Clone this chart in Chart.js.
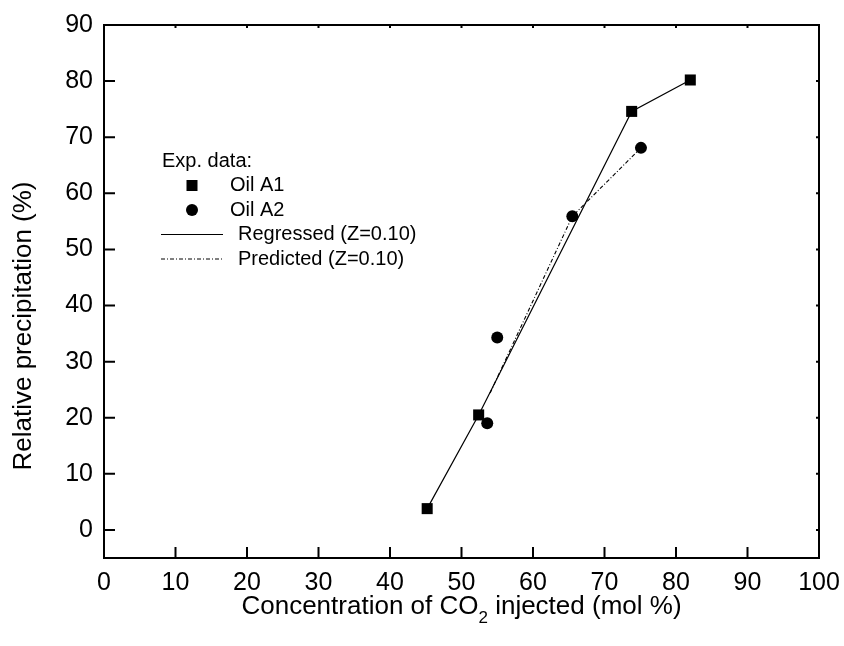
<!DOCTYPE html>
<html>
<head>
<meta charset="utf-8">
<script src="https://cdn.jsdelivr.net/npm/chart.js@4.4.1/dist/chart.umd.min.js"></script>
<style>
    html, body { margin: 0; padding: 0; background: #fff; }
    #wrap { width: 844px; height: 646px; }
</style>
</head>
<body>
<div id="wrap"><canvas id="myChart" width="844" height="646"></canvas></div>
<script>
// values
let oilA1X = [45.2, 52.4, 73.8, 82.0];
let oilA1Y = [3.8, 20.5, 74.6, 80.2];
let oilA2X = [53.6, 55.0, 65.5, 75.1];
let oilA2Y = [19.0, 34.3, 55.9, 68.1];
let regressedX = [45.2, 52.4, 73.8, 82.0];
let regressedY = [3.8, 20.5, 74.6, 80.2];
let predictedX = [54.0, 65.5, 75.1];
let predictedY = [24.4, 55.9, 68.1];
let xTicks = [0, 10, 20, 30, 40, 50, 60, 70, 80, 90, 100];
let yTicks = [0, 10, 20, 30, 40, 50, 60, 70, 80, 90];
let legendHeader = 'Exp. data:';
let yTitle = 'Relative precipitation (%)';
let xTitleParts = ['Concentration of CO', '2', ' injected (mol %)'];

const FONT = '"Liberation Sans", Arial, sans-serif';
const TICK_FS = 25;
const TITLE_FS = 26;
const LEGEND_FS = 20;

function toPoints(xs, ys) {
    return xs.map((x, i) => ({ x: x, y: ys[i] }));
}

// frame, inward ticks, legend and axis titles
const extras = {
    id: 'extras',
    afterDraw(chart) {
        let ctx = chart.ctx;
        let a = chart.chartArea;
        let xs = chart.scales.x;
        let ys = chart.scales.y;
        ctx.save();
        ctx.strokeStyle = '#000';
        ctx.lineWidth = 2;
        ctx.beginPath();
        ctx.moveTo(a.left, a.top);
        ctx.lineTo(a.right, a.top);
        ctx.lineTo(a.right, a.bottom);
        ctx.stroke();

        ctx.beginPath();
        xTicks.forEach(v => {
            let p = xs.getPixelForValue(v);
            ctx.moveTo(p, a.bottom);
            ctx.lineTo(p, a.bottom - 11);
            ctx.moveTo(p, a.top);
            ctx.lineTo(p, a.top + 3);
        });
        yTicks.forEach(v => {
            let p = ys.getPixelForValue(v);
            ctx.moveTo(a.left, p);
            ctx.lineTo(a.left + 11, p);
            ctx.moveTo(a.right, p);
            ctx.lineTo(a.right - 3, p);
        });
        ctx.stroke();

        // legend
        let ds = chart.data.datasets;
        let lx = a.left + 57;
        let ly = a.top + 136;
        let step = 24.5;
        ctx.fillStyle = '#000';
        ctx.font = LEGEND_FS + 'px ' + FONT;
        ctx.textBaseline = 'middle';
        ctx.textAlign = 'left';
        ctx.fillText(legendHeader, lx + 1, ly);

        let mx = lx + 31;
        ctx.fillRect(mx - 5.5, ly + step - 5.5, 11, 11);
        ctx.fillText(ds[0].label, lx + 69, ly + step);

        ctx.beginPath();
        ctx.arc(mx, ly + 2 * step, 6, 0, Math.PI * 2);
        ctx.fill();
        ctx.fillText(ds[1].label, lx + 69, ly + 2 * step);

        ctx.lineWidth = 1;
        ctx.beginPath();
        ctx.moveTo(lx, ly + 3 * step);
        ctx.lineTo(lx + 62, ly + 3 * step);
        ctx.stroke();
        ctx.fillText(ds[2].label, lx + 77, ly + 3 * step);

        ctx.setLineDash(ds[3].borderDash);
        ctx.beginPath();
        ctx.moveTo(lx, ly + 4 * step);
        ctx.lineTo(lx + 62, ly + 4 * step);
        ctx.stroke();
        ctx.setLineDash([]);
        ctx.fillText(ds[3].label, lx + 77, ly + 4 * step);

        // y axis title
        let big = TITLE_FS + 'px ' + FONT;
        ctx.save();
        ctx.translate(24, 326);
        ctx.rotate(-Math.PI / 2);
        ctx.font = big;
        ctx.textAlign = 'center';
        ctx.fillText(yTitle, 0, 0);
        ctx.restore();

        // x axis title with subscript
        let small = '17px ' + FONT;
        ctx.font = big;
        let w1 = ctx.measureText(xTitleParts[0]).width;
        let w3 = ctx.measureText(xTitleParts[2]).width;
        ctx.font = small;
        let w2 = ctx.measureText(xTitleParts[1]).width;
        let tx = (a.left + a.right) / 2 - (w1 + w2 + w3) / 2;
        let ty = 607;
        ctx.font = big;
        ctx.fillText(xTitleParts[0], tx, ty);
        ctx.font = small;
        ctx.fillText(xTitleParts[1], tx + w1, ty + 11);
        ctx.font = big;
        ctx.fillText(xTitleParts[2], tx + w1 + w2, ty);
        ctx.restore();
    }
};

let data = {
    datasets: [
        {
            label: 'Oil A1',
            data: toPoints(oilA1X, oilA1Y),
            showLine: false,
            pointStyle: 'rect',
            pointRadius: 7.8,
            backgroundColor: '#000',
            borderColor: '#000',
            borderWidth: 0
        }, {
            label: 'Oil A2',
            data: toPoints(oilA2X, oilA2Y),
            showLine: false,
            pointStyle: 'circle',
            pointRadius: 6,
            backgroundColor: '#000',
            borderColor: '#000',
            borderWidth: 0
        }, {
            label: 'Regressed (Z=0.10)',
            data: toPoints(regressedX, regressedY),
            showLine: true,
            pointRadius: 0,
            borderColor: '#000',
            borderWidth: 1.2,
            fill: false
        }, {
            label: 'Predicted (Z=0.10)',
            data: toPoints(predictedX, predictedY),
            showLine: true,
            pointRadius: 0,
            borderColor: '#000',
            borderWidth: 1.1,
            borderDash: [4, 2, 1, 2],
            fill: false
        }]
};

const config = {
    type: 'scatter',
    data: data,
    options: {
        responsive: false,
        animation: false,
        devicePixelRatio: 1,
        layout: { padding: { top: 25, right: 25, left: 0, bottom: 0 } },
        plugins: {
            legend: { display: false },
            tooltip: { enabled: false }
        },
        scales: {
            x: {
                type: 'linear',
                min: 0,
                max: 100,
                afterBuildTicks: s => { s.ticks = xTicks.map(v => ({ value: v })); },
                afterFit: s => { s.height = 88; s.paddingLeft = 0; s.paddingRight = 0; },
                grid: { display: false, drawTicks: false },
                border: { display: true, color: '#000', width: 2 },
                ticks: { color: '#000', padding: 10, maxRotation: 0, autoSkip: false, font: { family: FONT, size: TICK_FS } },
                title: { display: false }
            },
            y: {
                type: 'linear',
                min: -5,
                max: 90,
                afterBuildTicks: s => { s.ticks = yTicks.map(v => ({ value: v })); },
                afterFit: s => { s.width = 104; s.paddingTop = 0; s.paddingBottom = 0; },
                grid: { display: false, drawTicks: false },
                border: { display: true, color: '#000', width: 2 },
                ticks: { color: '#000', padding: 11, autoSkip: false, font: { family: FONT, size: TICK_FS } },
                title: { display: false }
            }
        }
    },
    plugins: [extras]
};

let myChart = new Chart(document.getElementById('myChart'), config);
</script>
</body>
</html>
